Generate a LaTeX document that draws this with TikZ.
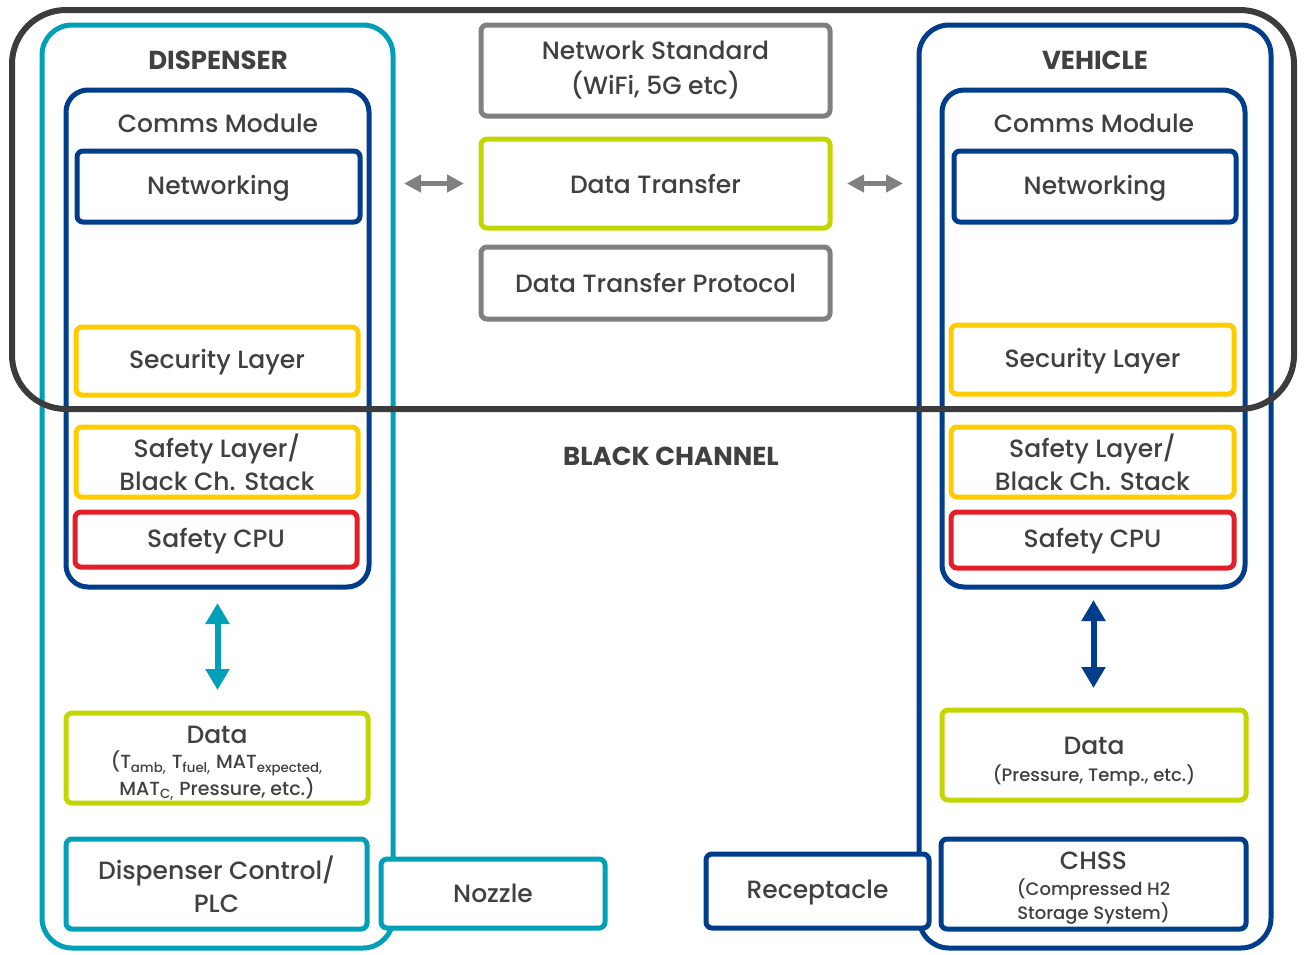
\documentclass[tikz,border=0pt]{standalone}
\usepackage{fontspec}
\setmainfont{Poppins}[UprightFont=* Medium, BoldFont=* Bold]
\usetikzlibrary{arrows.meta,positioning}
\definecolor{c_teal}{RGB}{0,160,184}
\definecolor{c_blue}{RGB}{0,61,139}
\definecolor{c_lime}{RGB}{196,214,0}
\definecolor{c_yell}{RGB}{255,204,0}
\definecolor{c_red}{RGB}{226,30,40}
\definecolor{c_gray}{RGB}{128,128,128}
\definecolor{c_dark}{RGB}{60,60,60}
\definecolor{c_txt}{RGB}{64,64,64}
\newcommand\lblfont{\fontsize{12.5}{16.5}\selectfont}
\newcommand\subfont{\fontsize{9}{11.5}\selectfont}
\newcommand\headfont{\fontsize{13}{15}\selectfont\bfseries}
\tikzset{
  box/.style = {draw, fill=white, line width=2.5pt, rounded corners=3pt,
    align=center, inner sep=0pt, outer sep=0pt, text=c_txt, font=\lblfont},
  wh/.style 2 args = {minimum width=#1*0.5pt, minimum height=#2*0.5pt},
  box_t/.style = {box, draw=c_teal},% teal: dispenser side
  box_b/.style = {box, draw=c_blue},% dark blue: vehicle side
  box_l/.style = {box, draw=c_lime},% lime: data
  box_y/.style = {box, draw=c_yell},% yellow: layers
  box_r/.style = {box, draw=c_red},% red: cpu
  box_g/.style = {box, draw=c_gray},% gray: network
  small/.style = {font=\subfont},% boxes with a title and small lines
  frame_t/.style = {box_t, rounded corners=15pt},
  frame_b/.style = {box_b, rounded corners=15pt},
  comms/.style = {box_b, rounded corners=11pt},
  chan_k/.style = {draw=c_dark, line width=3pt, rounded corners=27pt,
    inner sep=0pt, outer sep=0pt},
  head/.style = {text=c_txt, font=\headfont, inner sep=0pt},
  lbl/.style = {text=c_txt, font=\lblfont, inner sep=0pt},
  arr_g/.style = {draw=c_gray, line width=2.5pt,
    {Triangle[width=8.5pt,length=8.5pt]}-{Triangle[width=8.5pt,length=8.5pt]}},
  arr_v/.style = {line width=3pt,
    {Triangle[width=11.5pt,length=10.5pt]}-{Triangle[width=11.5pt,length=10.5pt]}}
}

\begin{document}
\begin{tikzpicture}[x=0.5pt,y=-0.5pt]
\useasboundingbox (0,0) rectangle (1305,954);
% outer frames
\node[frame_t, wh={351}{923}] (disp) at (217.5,486.5) {};
\node[frame_b, wh={352}{923}] (veh) at (1095,486.5) {};
\node[head] at (218,60) {DISPENSER};
\node[head] at (1095,60) {VEHICLE};
% dispenser side
\node[comms, wh={303}{497}] (commsD) at (217.5,338.5) {};
\node[lbl] at (218,123) {Comms Module};
\node[box_b, wh={283}{71}] (netD) at (218.5,186.5) {\rule{0pt}{11pt}Networking};
\node[box_y, wh={282}{68}] (secD) at (217,361) {\rule{0pt}{11pt}Security Layer};
\node[box_y, wh={282}{70}] (safeD) at (217,462) {Safety Layer/\\Black Ch. Stack};
\node[box_r, wh={282}{55}] (cpuD) at (216,539.5) {\rule{0pt}{11pt}Safety CPU};
\node[box_l, small, font=\fontsize{9.5}{10.5}\selectfont, wh={302}{90}] (dataD) at (217,758)
  {\rule{0pt}{14pt}{\lblfont Data}\\[2pt]
  (T\textsubscript{amb,} T\textsubscript{fuel,} MAT\textsubscript{expected,}\\
  MAT\textsubscript{C,} Pressure, etc.)};
\node[box_t, wh={301}{90}] (ctrlD) at (216.5,884) {Dispenser Control/\\PLC};
\node[box_t, wh={224}{69}] (nozzle) at (493,893.5) {Nozzle};
% network in the middle
\node[box_g, wh={349}{91}] (netstd) at (655.5,70.5) {Network Standard\\[1pt](WiFi, 5G etc)};
\node[box_l, wh={349}{89}] (dtrans) at (655.5,183.5) {Data Transfer};
\node[box_g, wh={349}{72}] (dtp) at (655.5,283) {Data Transfer Protocol};
\node[head] (bc) at (671,456) {BLACK CHANNEL};
\node[box_b, wh={223}{74}] (recep) at (817.5,891) {\rule{0pt}{11pt}Receptacle};
% vehicle side
\node[comms, wh={303}{497}] (commsV) at (1093.5,338.5) {};
\node[lbl] at (1094,123) {Comms Module};
\node[box_b, wh={282}{71}] (netV) at (1095,186.5) {\rule{0pt}{11pt}Networking};
\node[box_y, wh={283}{69}] (secV) at (1092.5,359.5) {\rule{0pt}{11pt}Security Layer};
\node[box_y, wh={283}{70}] (safeV) at (1092.5,462) {Safety Layer/\\Black Ch. Stack};
\node[box_r, wh={283}{56}] (cpuV) at (1092.5,540) {\rule{0pt}{11pt}Safety CPU};
\node[box_l, small, wh={304}{90}] (dataV) at (1094,755)
  {\rule{0pt}{15pt}{\lblfont Data}\\[2pt] (Pressure, Temp., etc.)};
\node[box_b, small, font=\fontsize{9}{12}\selectfont, wh={305}{90}] (chss) at (1093.5,884)
  {\rule{0pt}{12.5pt}{\lblfont CHSS}\\[1pt] (Compressed H2\\ Storage System)};
% arrows
\draw[arr_g, shorten <=5.5pt, shorten >=8.5pt] (disp.east |- dtrans) -- (dtrans.west);
\draw[arr_g, shorten <=8.5pt, shorten >=8pt] (dtrans.east) -- (veh.west |- dtrans);
\draw[arr_v, draw=c_teal, fill=c_teal, shorten <=8pt, shorten >=11.5pt]
  (commsD.south) -- (commsD.south |- dataD.north);
\draw[arr_v, draw=c_blue, fill=c_blue, shorten <=6.5pt, shorten >=11pt]
  (commsV.south) -- (commsV.south |- dataV.north);
% black channel on top
\node[chan_k, wh={1282}{399}] (chan) at (653,209.5) {};
\end{tikzpicture}
\end{document}
